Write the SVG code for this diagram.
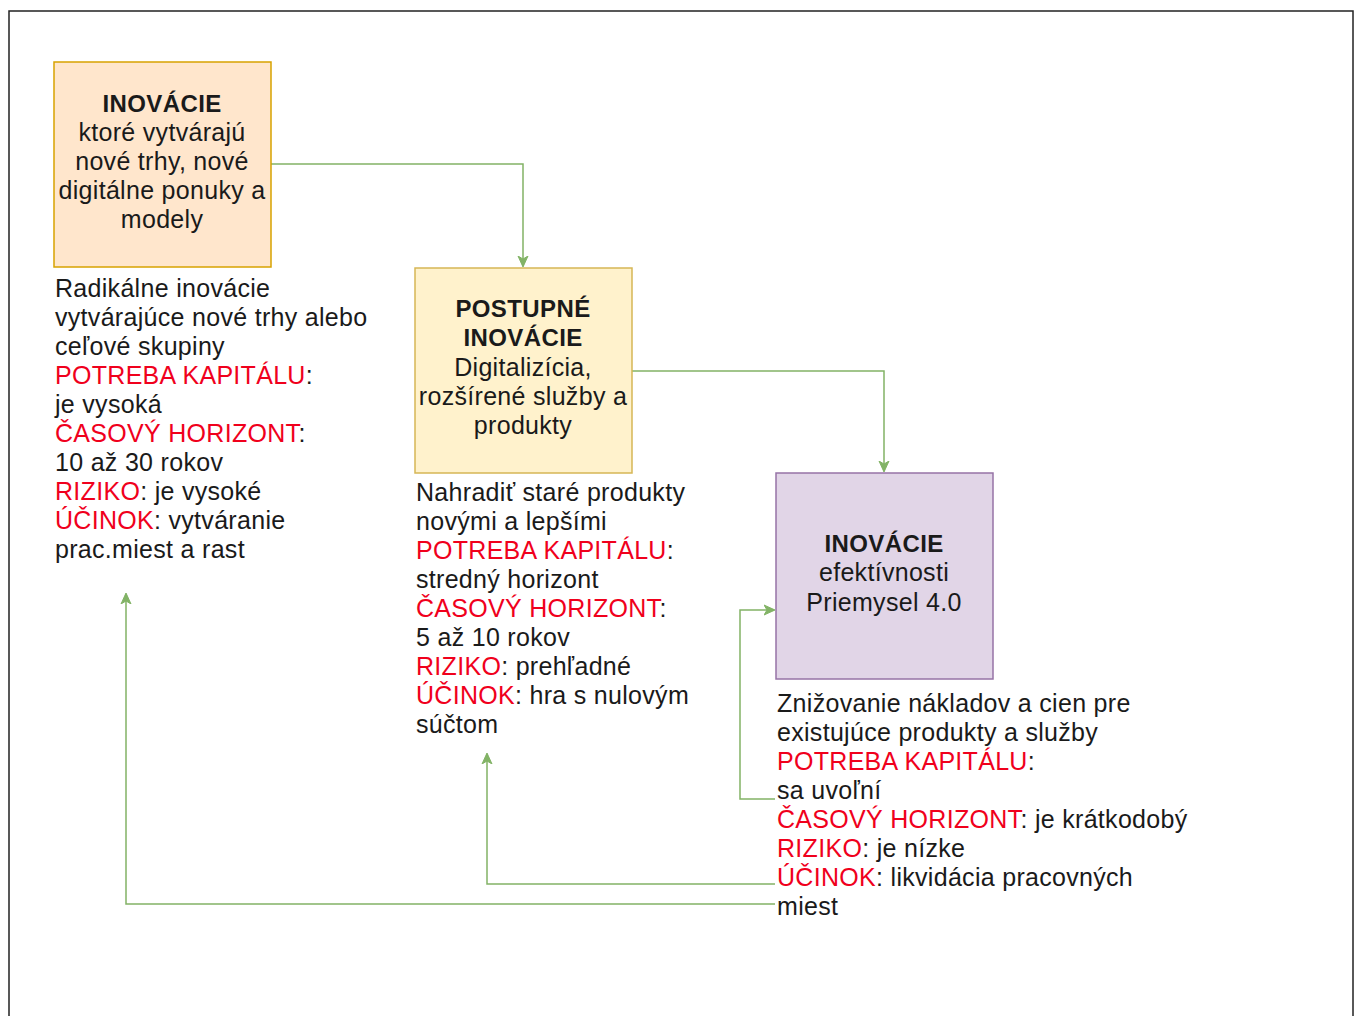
<svg xmlns="http://www.w3.org/2000/svg" width="1355" height="1016" viewBox="0 0 1355 1016">
<style>
text{font-family:"Liberation Sans",Arial,sans-serif;font-size:25px;letter-spacing:0.3px;fill:#1a1a1a}
.c{text-anchor:middle}
.b{font-weight:bold;font-size:24px;letter-spacing:0.4px}
.r{fill:#f0001c}
.e{fill:none;stroke:#82b366;stroke-width:1.5}
</style>
<defs>
<marker id="a" markerWidth="12" markerHeight="12" refX="10" refY="6" orient="auto" markerUnits="userSpaceOnUse">
<path d="M0,1 L11,6 L0,11 L3,6 Z" fill="#82b366" stroke="#82b366"/>
</marker>
</defs>
<rect x="9" y="11" width="1344" height="1015" fill="#fff" stroke="#222" stroke-width="1.5"/>
<g id="connectors">
<path class="e" d="M271,164 H523 V266" marker-end="url(#a)"/>
<path class="e" d="M632,371 H884 V471" marker-end="url(#a)"/>
<path class="e" d="M775,799 H740 V610 H774" marker-end="url(#a)"/>
<path class="e" d="M775,884 H487 V754" marker-end="url(#a)"/>
<path class="e" d="M775,904 H126 V594" marker-end="url(#a)"/>
</g>
<g id="n1">
<rect x="54" y="62" width="217" height="205" fill="#ffe6cc" stroke="#d7a200" stroke-width="1.5"/>
<text class="c b" x="162" y="112">INOVÁCIE</text>
<text class="c" x="162" y="141">ktoré vytvárajú</text>
<text class="c" x="162" y="170">nové trhy, nové</text>
<text class="c" x="162" y="199">digitálne ponuky a</text>
<text class="c" x="162" y="228">modely</text>
</g>
<g id="t1">
<text x="55" y="297">Radikálne inovácie</text>
<text x="55" y="326">vytvárajúce nové trhy alebo</text>
<text x="55" y="355">ceľové skupiny</text>
<text x="55" y="384"><tspan class="r">POTREBA KAPITÁLU</tspan>:</text>
<text x="55" y="413">je vysoká</text>
<text x="55" y="442"><tspan class="r">ČASOVÝ HORIZONT</tspan>:</text>
<text x="55" y="471">10 až 30 rokov</text>
<text x="55" y="500"><tspan class="r">RIZIKO</tspan>: je vysoké</text>
<text x="55" y="529"><tspan class="r">ÚČINOK</tspan>: vytváranie</text>
<text x="55" y="558">prac.miest a rast</text>
</g>
<g id="n2">
<rect x="415" y="268" width="217" height="205" fill="#fff2cc" stroke="#d6b656" stroke-width="1.5"/>
<text class="c b" x="523" y="317">POSTUPNÉ</text>
<text class="c b" x="523" y="346">INOVÁCIE</text>
<text class="c" x="523" y="376">Digitalizícia,</text>
<text class="c" x="523" y="405">rozšírené služby a</text>
<text class="c" x="523" y="434">produkty</text>
</g>
<g id="t2">
<text x="416" y="501">Nahradiť staré produkty</text>
<text x="416" y="530">novými a lepšími</text>
<text x="416" y="559"><tspan class="r">POTREBA KAPITÁLU</tspan>:</text>
<text x="416" y="588">stredný horizont</text>
<text x="416" y="617"><tspan class="r">ČASOVÝ HORIZONT</tspan>:</text>
<text x="416" y="646">5 až 10 rokov</text>
<text x="416" y="675"><tspan class="r">RIZIKO</tspan>: prehľadné</text>
<text x="416" y="704"><tspan class="r">ÚČINOK</tspan>: hra s nulovým</text>
<text x="416" y="733">súčtom</text>
</g>
<g id="n3">
<rect x="776" y="473" width="217" height="206" fill="#e1d5e7" stroke="#9673a6" stroke-width="1.5"/>
<text class="c b" x="884" y="552">INOVÁCIE</text>
<text class="c" x="884" y="581">efektívnosti</text>
<text class="c" x="884" y="611">Priemysel 4.0</text>
</g>
<g id="t3">
<text x="777" y="712">Znižovanie nákladov a cien pre</text>
<text x="777" y="741">existujúce produkty a služby</text>
<text x="777" y="770"><tspan class="r">POTREBA KAPITÁLU</tspan>:</text>
<text x="777" y="799">sa uvoľní</text>
<text x="777" y="828"><tspan class="r">ČASOVÝ HORIZONT</tspan>: je krátkodobý</text>
<text x="777" y="857"><tspan class="r">RIZIKO</tspan>: je nízke</text>
<text x="777" y="886"><tspan class="r">ÚČINOK</tspan>: likvidácia pracovných</text>
<text x="777" y="915">miest</text>
</g>
</svg>
